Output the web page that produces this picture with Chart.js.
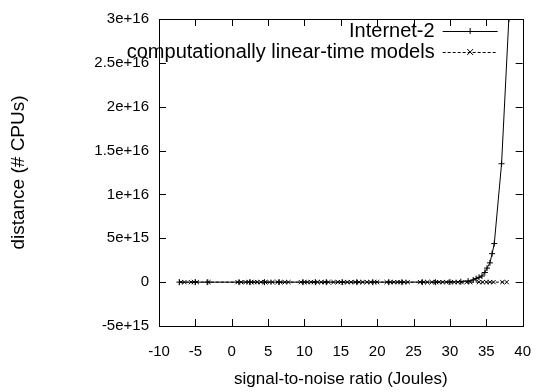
<!DOCTYPE html>
<html>
<head>
<meta charset="utf-8">
<script src="https://cdn.jsdelivr.net/npm/chart.js@4.4.1/dist/chart.umd.min.js"></script>
<style>
  html, body { margin: 0; padding: 0; background: #fff; }
  #wrap { width: 548px; height: 392px; }
</style>
</head>
<body>
<div id="wrap"><canvas id="chart" width="548" height="392"></canvas></div>
<script>
const FONT = "'Liberation Sans', Arial, sans-serif";

// series 1: Internet-2
const internetX = [-7.2, -5.0, -3.3, 1.0, 2.5, 4.5, 6.5, 9.8, 11.5, 13.0, 15.2, 17.2, 19.4, 21.6, 23.4,
  26.2, 28.0, 30.0, 31.5, 32.5, 33.2, 33.6, 34.0, 34.4, 34.8, 35.1, 35.5, 35.8, 36.1, 37.1, 38.1];
const internetY = [0, 0, 0, 0, 0, 0, 0, 0, 0, 0, 0, 0, 0, 0, 0,
  0, 0, 2e13, 5e13, 1.2e14, 2.5e14, 4e14, 5.5e14, 7e14, 1.1e15, 1.6e15, 2.2e15, 3.25e15, 4.4e15, 1.35e16, 3.0e16];

// series 2: computationally linear-time models
const modelsX = [-7.0, -6.5, -5.6, -5.2, -4.8, -3.2, 0.8, 1.3, 1.9, 2.3, 2.7, 3.1, 3.5, 4.0, 4.6, 5.2, 5.6,
  6.3, 6.7, 7.3, 7.8, 9.5, 10.0, 10.4, 10.9, 11.3, 11.8, 12.3, 12.8, 13.3, 14.0, 14.6, 15.0, 15.4, 15.9,
  16.4, 17.0, 17.5, 18.0, 18.6, 19.1, 19.6, 20.0, 21.3, 21.8, 22.3, 22.8, 23.2, 23.7, 24.2, 25.9, 26.4,
  26.9, 27.5, 28.1, 28.5, 29.0, 29.5, 30.1, 30.6, 31.1, 31.6, 32.3, 32.8, 34.0, 34.5, 35.0, 35.5, 36.0,
  37.2, 37.8];
const modelsY = modelsX.map(() => 0);

const seriesNames = ["Internet-2", "computationally linear-time models"];
const yTickLabels = { "-5000000000000000": "-5e+15", "0": "0", "5000000000000000": "5e+15",
  "10000000000000000": "1e+16", "15000000000000000": "1.5e+16", "20000000000000000": "2e+16",
  "25000000000000000": "2.5e+16", "30000000000000000": "3e+16" };

const toPoints = (xs, ys) => xs.map((x, i) => ({ x: x, y: ys[i] }));

// frame with inward ticks on all four sides, like gnuplot
const framePlugin = {
  id: "frame",
  afterDatasetsDraw(chart) {
    const { ctx, chartArea: a, scales } = chart;
    ctx.save();
    ctx.strokeStyle = "#000";
    ctx.lineWidth = 1;
    ctx.beginPath();
    scales.x.ticks.forEach((t) => {
      const px = Math.round(scales.x.getPixelForValue(t.value)) + 0.5;
      ctx.moveTo(px, a.bottom); ctx.lineTo(px, a.bottom - 7);
      ctx.moveTo(px, a.top); ctx.lineTo(px, a.top + 7);
    });
    scales.y.ticks.forEach((t) => {
      const py = Math.round(scales.y.getPixelForValue(t.value)) + 0.5;
      ctx.moveTo(a.left, py); ctx.lineTo(a.left + 7, py);
      ctx.moveTo(a.right, py); ctx.lineTo(a.right - 7, py);
    });
    ctx.stroke();
    ctx.strokeRect(Math.round(a.left) + 0.5, Math.round(a.top) + 0.5,
      Math.round(a.right - a.left), Math.round(a.bottom - a.top));
    ctx.restore();
  },
  afterDraw(chart) {
    // key in the top right, text right-aligned before the sample
    const { ctx, chartArea: a } = chart;
    ctx.save();
    ctx.font = "20px " + FONT;
    ctx.fillStyle = "#000";
    ctx.textAlign = "right";
    ctx.textBaseline = "middle";
    chart.data.datasets.forEach((ds, i) => {
      const y = a.top + 12 + i * 21;
      const x0 = a.right - 80, x1 = a.right - 25;
      ctx.fillText(ds.label, x0 - 8, y);
      ctx.strokeStyle = "#000";
      ctx.lineWidth = 1;
      ctx.setLineDash(ds.borderDash || []);
      ctx.beginPath();
      ctx.moveTo(x0, y + 0.5); ctx.lineTo(x1, y + 0.5);
      ctx.stroke();
      ctx.setLineDash([]);
      const mx = (x0 + x1) / 2, r = 3;
      ctx.beginPath();
      if (ds.pointStyle === "cross") {
        ctx.moveTo(mx - r, y + 0.5); ctx.lineTo(mx + r, y + 0.5);
        ctx.moveTo(mx, y - r); ctx.lineTo(mx, y + r);
      } else {
        ctx.moveTo(mx - r, y - r); ctx.lineTo(mx + r, y + r);
        ctx.moveTo(mx - r, y + r); ctx.lineTo(mx + r, y - r);
      }
      ctx.stroke();
    });
    ctx.restore();
  }
};

new Chart(document.getElementById("chart").getContext("2d"), {
  type: "scatter",
  data: {
    datasets: [
      {
        label: seriesNames[0],
        data: toPoints(internetX, internetY),
        showLine: true,
        borderColor: "#000",
        borderWidth: 1,
        pointStyle: "cross",
        pointRadius: 3,
        pointBorderColor: "#000",
        pointBorderWidth: 1,
      },
      {
        label: seriesNames[1],
        data: toPoints(modelsX, modelsY),
        showLine: true,
        borderColor: "#000",
        borderWidth: 1,
        borderDash: [3, 2],
        pointStyle: "crossRot",
        pointRadius: 3,
        pointBorderColor: "#000",
        pointBorderWidth: 1,
      },
    ],
  },
  options: {
    responsive: false,
    animation: false,
    devicePixelRatio: 1,
    layout: { padding: { top: 14, right: 23, left: 0, bottom: 0 } },
    plugins: { legend: { display: false }, tooltip: { enabled: false } },
    scales: {
      x: {
        type: "linear",
        min: -10,
        max: 40,
        grid: { display: false, drawTicks: false },
        border: { display: false },
        ticks: { stepSize: 5, padding: 17, color: "#000", font: { family: FONT, size: 15 }, maxRotation: 0 },
        title: { display: true, text: "signal-to-noise ratio (Joules)", color: "#000",
          font: { family: FONT, size: 17 }, padding: { top: 0, bottom: 2 } },
        afterFit(scale) { scale.height = 66; },
      },
      y: {
        type: "linear",
        min: -5e15,
        max: 3e16,
        grid: { display: false, drawTicks: false },
        border: { display: false },
        ticks: { stepSize: 5e15, padding: 10, color: "#000", font: { family: FONT, size: 15 },
          callback: (v) => yTickLabels[String(v)] ?? "" },
        title: { display: true, text: "distance (# CPUs)", color: "#000",
          font: { family: FONT, size: 19 }, padding: { top: 7, bottom: 0 } },
        afterFit(scale) { scale.width = 159; },
      },
    },
  },
  plugins: [framePlugin],
});
</script>
</body>
</html>
